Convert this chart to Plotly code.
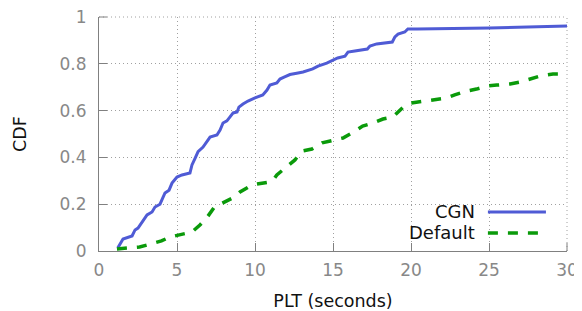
import plotly.graph_objects as go

# CGN series (PLT seconds, CDF)
cgn_x = [1.2, 1.54, 2.12, 2.31, 2.5, 2.82, 3.08, 3.4, 3.59, 3.91, 4.1, 4.23, 4.49, 4.68, 5.0, 5.32,
         5.83, 5.96, 6.15, 6.35, 6.67, 6.92, 7.12, 7.56, 7.76, 7.95, 8.2, 8.4, 8.6, 8.85, 8.97, 9.23,
         9.55, 10.0, 10.5, 10.77, 10.96, 11.4, 11.6, 11.9, 12.24, 12.76, 13.08, 13.7, 14.04, 14.6,
         15.0, 15.3, 15.77, 15.96, 16.4, 17.2, 17.37, 17.8, 18.8, 18.97, 19.17, 19.6, 19.8, 20.4,
         25.0, 30.0]
cgn_y = [0.013, 0.051, 0.064, 0.09, 0.098, 0.132, 0.154, 0.167, 0.188, 0.2, 0.226, 0.248, 0.26,
         0.29, 0.316, 0.325, 0.333, 0.368, 0.395, 0.425, 0.444, 0.466, 0.487, 0.496, 0.517, 0.547,
         0.556, 0.573, 0.59, 0.594, 0.615, 0.628, 0.641, 0.654, 0.667, 0.688, 0.709, 0.718, 0.735,
         0.744, 0.754, 0.761, 0.765, 0.778, 0.79, 0.803, 0.816, 0.825, 0.833, 0.85, 0.855, 0.863,
         0.876, 0.885, 0.893, 0.915, 0.927, 0.936, 0.949, 0.949, 0.953, 0.962]

# Default series
def_x = [1.15, 1.8, 2.6, 3.1, 4.0, 4.55, 5.3, 5.96, 6.47, 6.9, 7.4, 7.95, 8.7, 9.04, 9.8, 10.13,
         11.1, 11.4, 12.05, 12.56, 13.0, 13.65, 14.3, 14.9, 15.64, 16.2, 16.9, 17.56, 18.2, 18.85,
         19.5, 19.94, 20.8, 21.4, 22.3, 22.8, 23.6, 24.2, 24.9, 25.5, 26.35, 27.0, 27.75, 28.3,
         29.1, 29.7]
def_y = [0.009, 0.013, 0.017, 0.026, 0.043, 0.06, 0.073, 0.081, 0.111, 0.141, 0.188, 0.205, 0.231,
         0.252, 0.282, 0.286, 0.297, 0.325, 0.363, 0.389, 0.427, 0.436, 0.462, 0.47, 0.483, 0.504,
         0.534, 0.547, 0.564, 0.573, 0.615, 0.632, 0.641, 0.645, 0.654, 0.667, 0.684, 0.692, 0.705,
         0.709, 0.714, 0.722, 0.735, 0.748, 0.756, 0.756]

x_ticks = [0, 5, 10, 15, 20, 25, 30]
y_ticks = [0, 0.2, 0.4, 0.6, 0.8, 1]
y_tick_text = ["0", "0.2", "0.4", "0.6", "0.8", "1"]
series_names = ["CGN", "Default"]

BLUE = "#4f5bd5"
GREEN = "#0a9a0a"
AXIS = "#808080"
GRID = "#a0a0a0"
FONT = "DejaVu Sans"

fig = go.Figure()
fig.add_trace(go.Scatter(x=cgn_x, y=cgn_y, mode="lines", name=series_names[0],
                         line=dict(color=BLUE, width=3), showlegend=False))
fig.add_trace(go.Scatter(x=def_x, y=def_y, mode="lines", name=series_names[1],
                         line=dict(color=GREEN, width=3.5, dash="10px,10px"), showlegend=False))

axis_common = dict(
    showline=True, linecolor=AXIS, linewidth=1,
    ticks="inside", ticklen=8, tickcolor=AXIS, tickwidth=1,
    showgrid=True, gridcolor=GRID, griddash="1px,3px", gridwidth=1,
    zeroline=False, tickfont=dict(family=FONT, size=17, color="#888888"),
    fixedrange=True, automargin=False, ticklabeloverflow="allow",
)

fig.update_xaxes(range=[0, 30], tickvals=x_ticks, ticktext=[str(v) for v in x_ticks],
                 title=dict(text="PLT (seconds)", font=dict(family=FONT, size=17.5, color="#111111"),
                            standoff=32),
                 ticklabelstandoff=4, **axis_common)
fig.update_yaxes(range=[0, 1], tickvals=y_ticks, ticktext=y_tick_text,
                 title=dict(text="CDF", font=dict(family=FONT, size=17.5, color="#111111"),
                            standoff=28),
                 ticklabelstandoff=8, **axis_common)

# edge gridlines (top and right) and the end ticks, which plotly clips at the plot edges
fig.add_shape(type="line", xref="paper", yref="paper", x0=0, x1=1, y0=1, y1=1,
              line=dict(color=GRID, width=1, dash="1px,3px"), layer="below")
fig.add_shape(type="line", xref="paper", yref="paper", x0=1, x1=1, y0=0, y1=1,
              line=dict(color=GRID, width=1, dash="1px,3px"), layer="below")
fig.add_shape(type="line", xref="paper", yref="paper", x0=0, x1=8 / 468, y0=1, y1=1,
              line=dict(color=AXIS, width=1), layer="below")
fig.add_shape(type="line", xref="paper", yref="paper", x0=1, x1=1, y0=0, y1=8 / 234,
              line=dict(color=AXIS, width=1), layer="below")

# custom legend (text left of sample, as in the reference)
fig.add_shape(type="rect", xref="paper", yref="paper", x0=0.632, x1=0.957, y0=0.036, y1=0.226,
              fillcolor="white", line=dict(width=0), layer="between")
legend_y = [0.167, 0.077]
colors = [BLUE, GREEN]
dashes = ["solid", "10px,10px"]
widths = [3, 3.5]
for name, yy, c, d, w in zip(series_names, legend_y, colors, dashes, widths):
    fig.add_shape(type="line", xref="paper", yref="paper", x0=0.831, x1=0.955, y0=yy, y1=yy,
                  line=dict(color=c, width=w, dash=d), layer="above")
    fig.add_annotation(xref="paper", yref="paper", x=0.808, y=yy, text=name, showarrow=False,
                       xanchor="right", yanchor="middle",
                       font=dict(family=FONT, size=18, color="#111111"))

# page body has an 8px margin: figure sized to fit the 582x311 window
fig.update_layout(
    width=574, height=303,
    margin=dict(l=91, r=15, t=9, b=60),
    paper_bgcolor="white", plot_bgcolor="white",
    showlegend=False,
)

fig.write_html("out.html")
